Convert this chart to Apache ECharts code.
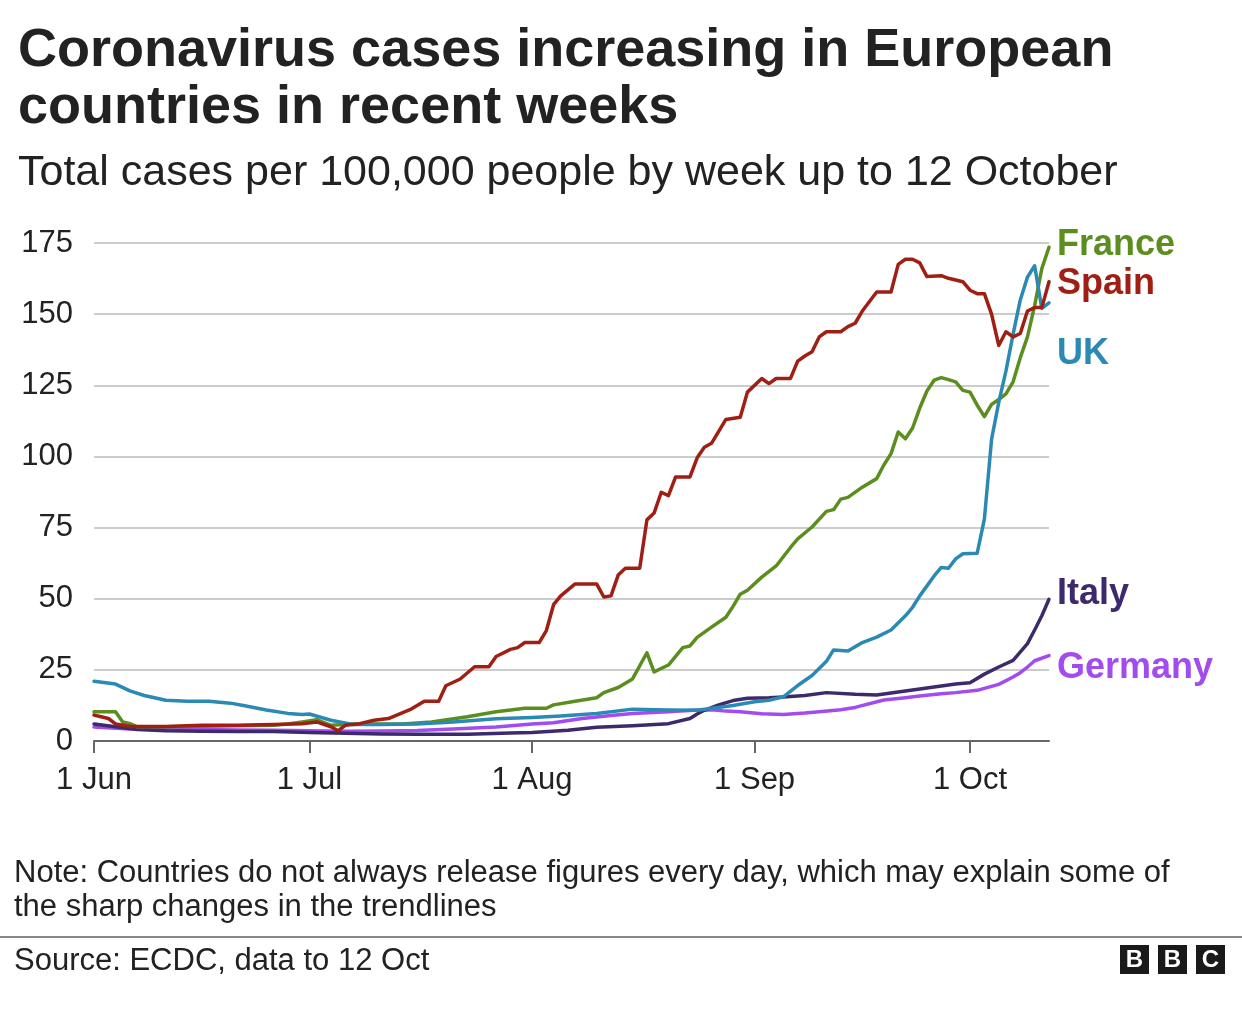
<!DOCTYPE html>
<html>
<head>
<meta charset="utf-8">
<script src="https://cdn.jsdelivr.net/npm/echarts@6/dist/echarts.min.js"></script>
<style>
html,body{margin:0;padding:0;background:#fff;}
#chart{width:1242px;height:1023px;}
</style>
</head>
<body>
<div id="chart"></div>
<script>
// Days since 1 Jun 2020 (0 = 1 Jun, 133 = 12 Oct)
const dayCount = 134;
const monthStartDays = [0, 30, 61, 92, 122];
const monthLabels = ['1 Jun', '1 Jul', '1 Aug', '1 Sep', '1 Oct'];
const yTicks = [0, 25, 50, 75, 100, 125, 150, 175];

const franceDays = [0,3,4,5,6,10,15,20,25,27,29,31,33,36,40,43,47,52,56,60,63,64,67,70,71,73,75,77,78,80,82,83,84,86,88,89,90,91,93,95,97,98,100,102,103,104,105,107,109,110,111,112,113,114,115,116,117,118,119,120,121,122,123,124,125,126,127,128,129,130,131,132,133];
const franceValues = [10.3,10.3,6.7,6.1,5,5,5.2,5.4,5.5,6,6.7,7.5,5.5,6,6,6,6.7,8.5,10.3,11.5,11.5,12.7,14,15.2,17,18.8,21.8,31,24.3,26.7,32.8,33.4,36.4,40,43.5,47.3,51.6,53,57.6,61.5,68,71,75.2,80.7,81.3,85,85.6,89.2,92.2,97,101,108.6,106.2,110,117,123,126.8,127.7,127,126.2,123.2,122.6,118,114,118.3,120,122,126.2,134.7,142,153,166,173.5];

const spainDays = [0,1,2,3,5,10,15,20,25,29,31,33,34,35,37,39,41,43,44,46,48,49,51,53,55,56,58,59,60,62,63,64,65,67,70,71,72,73,74,76,77,78,79,80,81,83,84,85,86,88,90,91,93,94,95,97,98,99,100,101,102,104,105,106,107,109,111,112,113,114,115,116,118,119,121,122,123,124,125,126,127,128,129,130,131,132,133];
const spainValues = [9.1,8.5,7.9,6,5.1,5.1,5.5,5.5,5.8,6.1,6.7,5,3.6,5.5,6.1,7.3,7.9,10,11,14,14,19.4,21.8,26.1,26.1,29.7,32.2,32.8,34.6,34.6,38.8,47.9,51,55.2,55.2,50.6,51,58.3,60.7,60.7,77.7,80.1,87.4,86.2,92.8,92.8,99.5,103.2,104.6,113,113.8,122.6,127.4,125.6,127.4,127.4,133.5,135.3,136.8,142,143.8,143.8,145.6,146.8,151.1,157.8,157.8,167.5,169.3,169.3,168,163.2,163.5,162.6,161.4,158.4,157.2,157.2,150,139,143.8,142,143.2,151.1,152.3,152.3,161.4];

const ukDays = [0,3,5,7,10,13,16,19,21,24,27,29,30,33,36,40,45,50,56,61,65,70,75,80,84,89,92,94,96,98,100,102,103,105,107,109,111,113,114,115,117,118,119,120,121,123,124,125,126,127,128,129,130,131,132,133];
const ukValues = [21,20,17.6,16,14.3,14,14,13.3,12.4,10.9,9.7,9.3,9.5,7.3,5.8,5.8,6,6.7,7.8,8.3,8.8,9.7,11.2,10.9,10.8,12.5,13.8,14.3,15.5,19.5,23,28,32,31.6,34.6,36.5,39,44,47,51,58,61,60.7,64,65.8,66,78,106,119,130,143,155,163,167,152,154];

const italyDays = [0,3,6,10,15,20,25,30,35,40,45,52,58,61,66,70,75,80,83,84,85,87,89,91,94,96,99,102,106,109,113,117,120,122,124,126,128,130,131,132,133];
const italyValues = [6,5,4,3.6,3.4,3.3,3.3,3,2.7,2.5,2.4,2.4,2.8,3,3.8,4.8,5.4,6.1,7.9,9.5,10.8,12.7,14.2,15,15.2,15.5,16,17,16.4,16.2,17.6,19,20,20.5,23.5,26,28.3,34.2,39,44,49.8];

const germanyDays = [0,5,10,15,20,25,30,35,40,45,50,56,61,64,68,72,75,80,84,86,88,90,93,96,99,101,104,106,110,113,115,118,120,123,126,128,129,130,131,133];
const germanyValues = [4.9,4.2,4,4,3.9,3.8,3.6,3.4,3.5,3.7,4.2,4.9,6,6.4,7.9,9,9.7,10.3,10.9,11,10.5,10.3,9.6,9.3,9.8,10.3,11,11.8,14.4,15.2,15.8,16.6,17,17.8,19.9,22.5,24,26,28.2,30];

const seriesNames = ['Germany', 'Italy', 'France', 'UK', 'Spain'];
const seriesColors = {France:'#5b8e1f', Spain:'#a01f14', UK:'#2b8ab3', Italy:'#3d2a6c', Germany:'#a24cf0'};
const labelOffsets = {France:[0,-2], Spain:[0,2], UK:[0,51], Italy:[0,-5], Germany:[0,12]};

const seriesSource = {
  France: [franceDays, franceValues],
  Spain: [spainDays, spainValues],
  UK: [ukDays, ukValues],
  Italy: [italyDays, italyValues],
  Germany: [germanyDays, germanyValues]
};

const categories = Array.from({length: dayCount}, (_, i) => String(i));
const FONT = '"Liberation Sans", Arial, Helvetica, sans-serif';

const chart = echarts.init(document.getElementById('chart'), null, {renderer: 'canvas'});

const series = seriesNames.map(name => {
  const [d, v] = seriesSource[name];
  return {
    name: name,
    type: 'line',
    data: d.map((x, i) => [x, v[i]]),
    showSymbol: false,
    symbol: 'none',
    lineStyle: {color: seriesColors[name], width: 3.5, join: 'round', cap: 'round'},
    itemStyle: {color: seriesColors[name]},
    z: 3,
    endLabel: {
      show: true,
      formatter: name,
      color: seriesColors[name],
      fontFamily: FONT,
      fontWeight: 'bold',
      fontSize: 36,
      distance: 8,
      offset: labelOffsets[name]
    },
    emphasis: {disabled: true}
  };
});

const option = {
  animation: false,
  backgroundColor: '#ffffff',
  grid: {left: 94, right: 193, top: 243, bottom: 282, containLabel: false},
  xAxis: {
    type: 'category',
    data: categories,
    boundaryGap: false,
    axisLine: {show: true, lineStyle: {color: '#666', width: 2}},
    axisTick: {
      show: true,
      length: 12,
      lineStyle: {color: '#666', width: 2},
      interval: (idx) => monthStartDays.includes(idx)
    },
    axisLabel: {
      show: true,
      interval: (idx) => monthStartDays.includes(idx),
      formatter: (val, idx) => {
        const k = monthStartDays.indexOf(Number(val));
        return k >= 0 ? monthLabels[k] : '';
      },
      color: '#222',
      fontFamily: FONT,
      fontSize: 31,
      margin: 24
    },
    splitLine: {show: false}
  },
  yAxis: {
    type: 'value',
    min: yTicks[0],
    max: yTicks[yTicks.length - 1],
    interval: 25,
    axisLine: {show: false},
    axisTick: {show: false},
    axisLabel: {
      color: '#222',
      fontFamily: FONT,
      fontSize: 31,
      margin: 21
    },
    splitLine: {show: true, lineStyle: {color: '#cccccc', width: 2}}
  },
  series: series,
  graphic: [
    {type: 'text', left: 18, top: 23, style: {text: 'Coronavirus cases increasing in European\ncountries in recent weeks', font: 'bold 54px ' + FONT, fill: '#222', lineHeight: 57}},
    {type: 'text', left: 18, top: 152, style: {text: 'Total cases per 100,000 people by week up to 12 October', font: '43px ' + FONT, fill: '#222'}},
    {type: 'text', left: 14, top: 856, style: {text: 'Note: Countries do not always release figures every day, which may explain some of\nthe sharp changes in the trendlines', font: '31px ' + FONT, fill: '#222', lineHeight: 34}},
    {type: 'line', shape: {x1: 0, y1: 937, x2: 1242, y2: 937}, style: {stroke: '#888', lineWidth: 2}},
    {type: 'text', left: 14, top: 946, style: {text: 'Source: ECDC, data to 12 Oct', font: '31px ' + FONT, fill: '#222'}},
    {type: 'rect', shape: {x: 1120, y: 945, width: 29, height: 29}, style: {fill: '#1a1a1a'}},
    {type: 'rect', shape: {x: 1158, y: 945, width: 29, height: 29}, style: {fill: '#1a1a1a'}},
    {type: 'rect', shape: {x: 1196, y: 945, width: 29, height: 29}, style: {fill: '#1a1a1a'}},
    {type: 'text', x: 1134.5, y: 960, style: {text: 'B', font: 'bold 24px ' + FONT, fill: '#fff', align: 'center', verticalAlign: 'middle'}},
    {type: 'text', x: 1172.5, y: 960, style: {text: 'B', font: 'bold 24px ' + FONT, fill: '#fff', align: 'center', verticalAlign: 'middle'}},
    {type: 'text', x: 1210.5, y: 960, style: {text: 'C', font: 'bold 24px ' + FONT, fill: '#fff', align: 'center', verticalAlign: 'middle'}}
  ]
};

chart.setOption(option);
</script>
</body>
</html>
